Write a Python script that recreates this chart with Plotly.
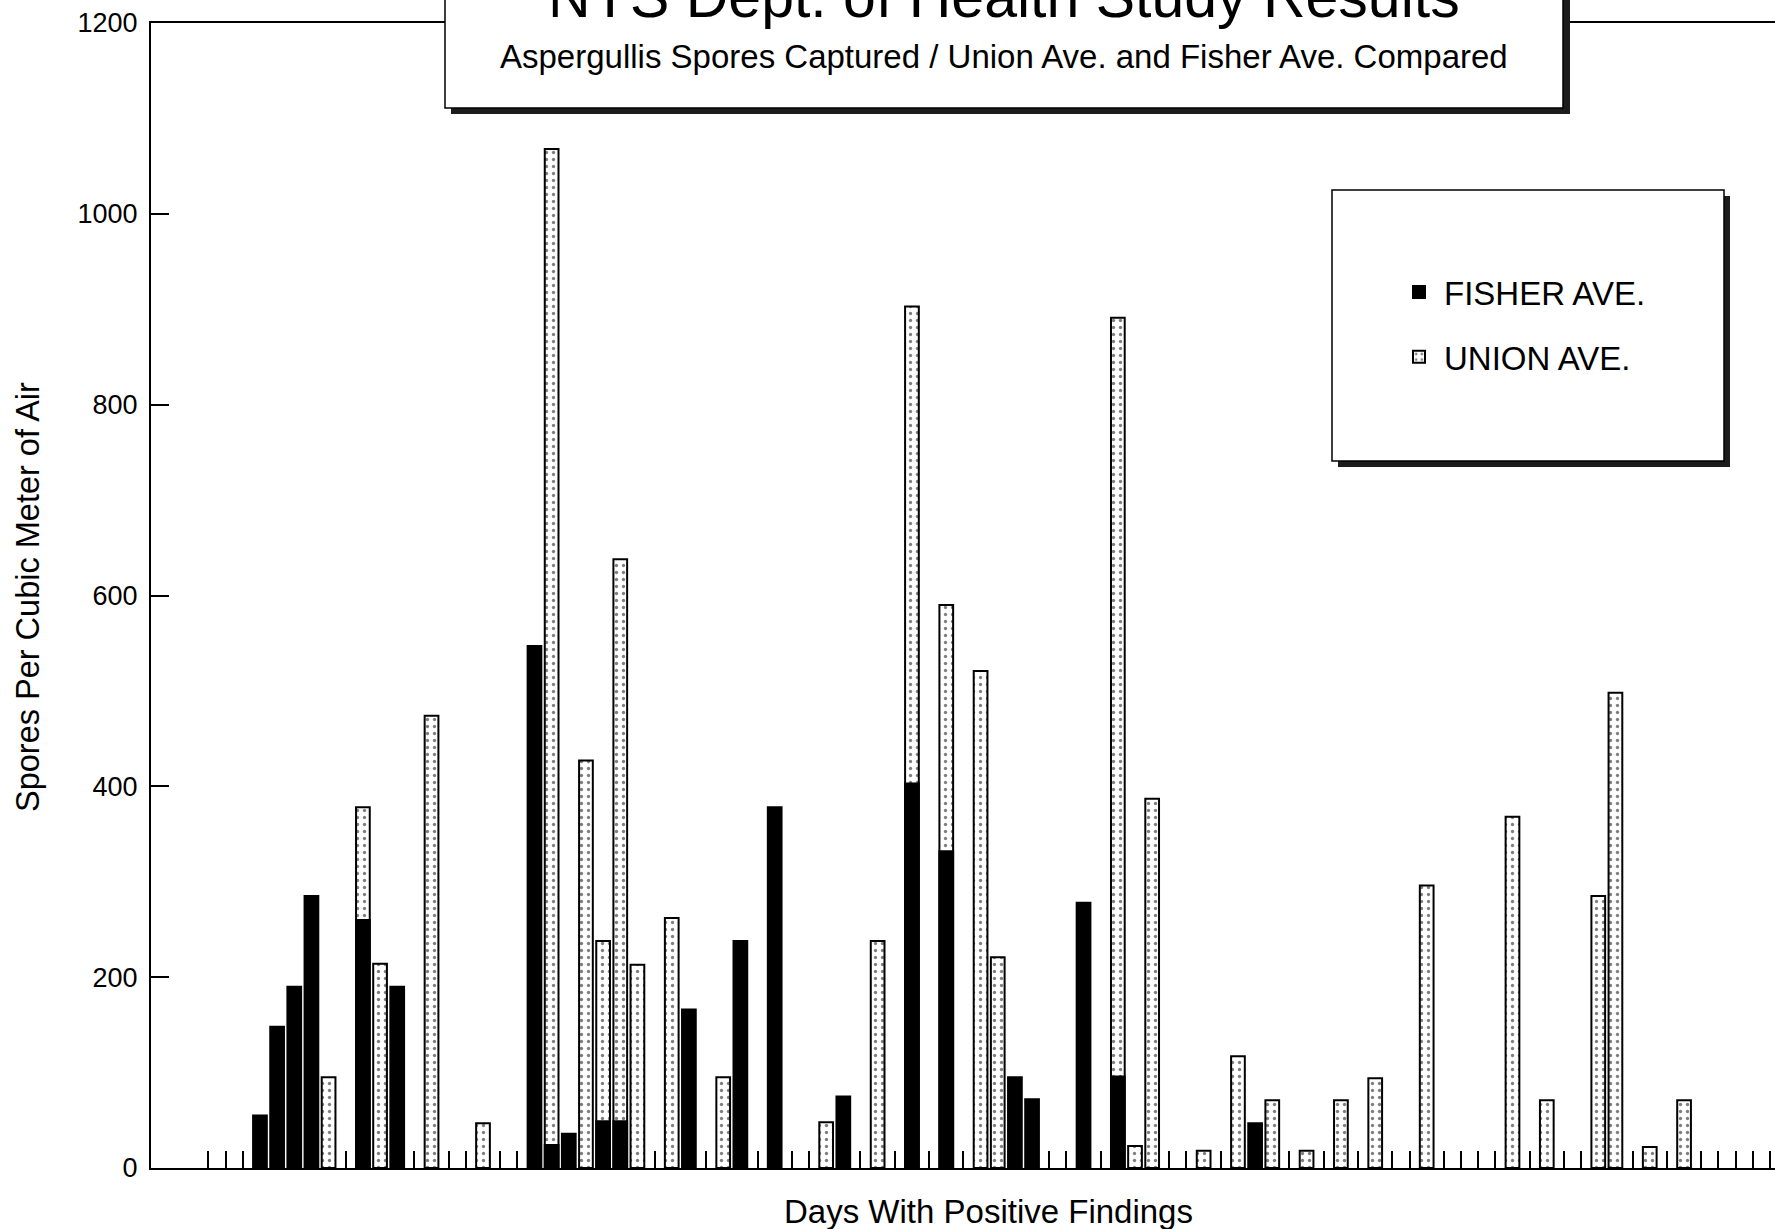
import plotly.graph_objects as go

# ---- data ----
days = list(range(1, 93))  # days with positive findings (category slots)

fisher = [None, None, None, 55, 148, 190, 285, None, None, 260,
          None, 190, None, None, None, None, None, None, None, 547,
          24, 36, None, 49, 49, None, None, None, 166, None,
          None, 238, None, 378, None, None, None, 75, None, None,
          None, 403, None, 332, None, None, None, 95, 72, None,
          None, 278, None, 96, None, None, None, None, None, None,
          None, 47, None, None, None, None, None, None, None, None,
          None, None, None, None, None, None, None, None, None, None,
          None, None, None, None, None, None, None, None, None, None,
          None, None]

union = [None, None, None, None, None, None, None, 95, None, 378,
         214, None, None, 474, None, None, 47, None, None, None,
         1068, None, 427, 238, 638, 213, None, 262, None, None,
         95, None, None, None, None, None, 48, None, None, 238,
         None, 903, None, 590, None, 521, 221, None, None, None,
         None, None, None, 891, 23, 387, None, None, 18, None,
         117, None, 71, None, 18, None, 71, None, 94, None,
         None, 296, None, None, None, None, 368, None, 71, None,
         None, 285, 498, None, 22, None, 71, None, None, None,
         None, None]

y_ticks = [0, 200, 400, 600, 800, 1000, 1200]

title_text = "NYS Dept. of Health Study Results"
subtitle_text = "Aspergullis Spores Captured / Union Ave. and Fisher Ave. Compared"
x_title = "Days With Positive Findings"
y_title = "Spores Per Cubic Meter of Air"

# ---- layout geometry (pixels) ----
W, H = 1775, 1229
L, R, T, B = 151, 0, 23, 61
PW, PH = W - L - R, H - T - B
FONT = "Liberation Sans, Arial, Helvetica, sans-serif"


def px(xp):
    return (xp - L) / PW


def py(yp):
    return (H - B - yp) / PH


fig = go.Figure()

fig.add_trace(go.Bar(
    x=days, y=union, name="UNION AVE.", width=0.8,
    marker=dict(color="white", line=dict(color="black", width=2),
                pattern=dict(shape=".", fgcolor="black", bgcolor="white",
                             size=7, solidity=0.18)),
    legendgroup="u", legendrank=2,
))
fig.add_trace(go.Bar(
    x=days, y=fisher, name="FISHER AVE.", width=0.8,
    marker=dict(color="black", line=dict(color="black", width=2)),
    legendgroup="f", legendrank=1,
))

shapes = []
# title box shadow + box
shapes.append(dict(type="rect", xref="paper", yref="paper",
                   x0=px(451), x1=px(1570), y0=py(114), y1=py(-30),
                   fillcolor="#1c1c1c", line=dict(width=0), layer="above"))
shapes.append(dict(type="rect", xref="paper", yref="paper",
                   x0=px(445), x1=px(1563), y0=py(108), y1=py(-30),
                   fillcolor="white", line=dict(color="black", width=1.5), layer="above"))
# legend box shadow + box
shapes.append(dict(type="rect", xref="paper", yref="paper",
                   x0=px(1338), x1=px(1730), y0=py(467), y1=py(196),
                   fillcolor="#1c1c1c", line=dict(width=0), layer="above"))
shapes.append(dict(type="rect", xref="paper", yref="paper",
                   x0=px(1332), x1=px(1724), y0=py(461), y1=py(190),
                   fillcolor="white", line=dict(color="black", width=1.5), layer="above"))

annotations = [
    dict(text=title_text, xref="paper", yref="paper", x=px(1004), y=py(-3),
         xanchor="center", yanchor="middle", showarrow=False,
         font=dict(family=FONT, size=59, color="black")),
    dict(text=subtitle_text, xref="paper", yref="paper", x=px(1004), y=py(56),
         xanchor="center", yanchor="middle", showarrow=False,
         font=dict(family=FONT, size=33, color="black")),
    dict(text=x_title, xref="paper", yref="paper", x=px(988), y=py(1211),
         xanchor="center", yanchor="middle", showarrow=False,
         font=dict(family=FONT, size=33, color="black")),
    dict(text=y_title, xref="paper", yref="paper", x=px(28), y=py(597),
         xanchor="center", yanchor="middle", showarrow=False, textangle=-90,
         font=dict(family=FONT, size=32.5, color="black")),
]

fig.update_layout(
    width=W, height=H,
    margin=dict(l=L, r=R, t=T, b=B, pad=0),
    paper_bgcolor="white", plot_bgcolor="white",
    barmode="overlay", bargap=0.2,
    font=dict(family=FONT, color="black"),
    showlegend=True,
    legend=dict(x=px(1394), y=py(264), xanchor="left", yanchor="top",
                bgcolor="rgba(0,0,0,0)", borderwidth=0, itemwidth=40,
                font=dict(family=FONT, size=33, color="black"),
                traceorder="grouped", tracegroupgap=19),
    shapes=shapes,
    annotations=annotations,
)

fig.update_xaxes(
    range=[-2.35, 92.3], tickmode="array", tickvals=days, showticklabels=False,
    ticks="inside", ticklen=17, tickwidth=2, tickcolor="black",
    showline=True, linecolor="black", linewidth=2, mirror=True,
    showgrid=False, zeroline=False, layer="below traces",
)
fig.update_yaxes(
    range=[0, 1200], tickmode="array", tickvals=y_ticks,
    ticktext=[str(v) for v in y_ticks],
    ticks="inside", ticklen=18, tickwidth=1.5, tickcolor="black",
    ticklabelstandoff=6,
    tickfont=dict(family=FONT, size=27, color="black"),
    showline=True, linecolor="black", linewidth=2, mirror=False,
    showgrid=False, zeroline=False,
)

fig.write_html("out.html", config={"displayModeBar": False},
               post_script="document.body.style.margin='0';document.body.style.overflow='hidden';")
